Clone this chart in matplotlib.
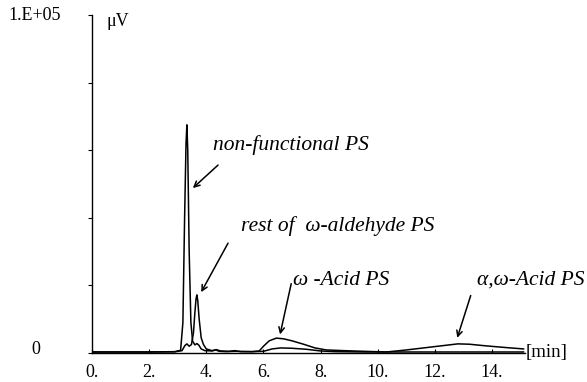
import matplotlib
matplotlib.use('Agg')
import matplotlib.pyplot as plt
import numpy as np

plt.rcParams['font.family'] = ['Liberation Serif', 'DejaVu Serif']

# retention time [min] and detector signal [uV]
t_a = [0.0, 1.0, 2.0, 2.9, 3.10, 3.18, 3.24, 3.29, 3.32, 3.35, 3.40, 3.46, 3.52, 3.60,
       3.67, 3.74, 3.82, 3.95, 4.20, 4.33, 4.45, 4.7, 5.0, 5.6, 6.0, 6.3, 6.6, 7.0,
       7.5, 8.0, 8.5, 9.5, 11.0, 13.0, 15.1]
s_a = [300, 300, 300, 400, 800, 9000, 40000, 62000, 67500, 60000, 30000, 9000, 3500,
       2400, 2800, 2300, 1200, 700, 600, 900, 500, 400, 500, 400, 500, 1200, 1500,
       1400, 1100, 600, 400, 300, 300, 300, 300]

t_b = [0.0, 1.0, 2.0, 2.9, 3.15, 3.25, 3.32, 3.40, 3.48, 3.55, 3.60, 3.64, 3.67,
       3.70, 3.75, 3.82, 3.90, 4.00, 4.20, 4.35, 4.50, 4.8, 5.0, 5.2, 5.6, 5.85,
       6.0, 6.2, 6.45, 6.7, 7.0, 7.4, 7.8, 8.2, 8.8, 9.5, 10.3, 11.0, 11.8, 12.4,
       12.8, 13.2, 13.8, 14.5, 15.1]
s_b = [300, 300, 300, 350, 700, 2200, 2700, 2000, 2500, 6000, 12000, 16000, 17200,
       15500, 10000, 4500, 2500, 1200, 700, 1000, 600, 500, 700, 400, 400, 600,
       2000, 3600, 4400, 4200, 3600, 2600, 1500, 900, 700, 500, 300, 900, 1700, 2300,
       2700, 2600, 2100, 1600, 1200]

xticks = [0, 2, 4, 6, 8, 10, 12, 14]
xticklabels = ['0.', '2.', '4.', '6.', '8.', '10.', '12.', '14.']

fig = plt.figure(figsize=(5.87, 3.82), dpi=100)
ax = fig.add_axes([92/587, 29/382, 433/587, 338/382])

ax.plot(t_a, s_a, color='black', lw=1.1)
ax.plot(t_b, s_b, color='black', lw=1.1)

ax.set_xlim(0, 15.15)
ax.set_ylim(0, 100000)
for sp in ['top', 'right']:
    ax.spines[sp].set_visible(False)
ax.spines['left'].set_linewidth(1.0)
ax.spines['bottom'].set_linewidth(1.0)

ax.set_xticks(xticks)
ax.set_xticklabels(xticklabels, fontsize=13)
ax.tick_params(axis='x', direction='in', length=3, pad=8)
ax.set_yticks([0, 20000, 40000, 60000, 80000, 100000])
ax.set_yticklabels([])
ax.tick_params(axis='y', direction='out', length=3)

fig.text(8/587, 1 - 16/382, '1.E+05', fontsize=13, va='center', ha='left')
fig.text(31/587, 1 - 349/382, '0', fontsize=13, va='center', ha='left')
fig.text(107/587, 1 - 22/382, 'μV', fontsize=13, va='center', ha='left')
fig.text(526/587, 1 - 352/382, '[min]', fontsize=13.5, va='center', ha='left')

arrow = dict(arrowstyle='->', color='black', lw=1.1, shrinkA=0, shrinkB=0)
lab = dict(fontsize=15.5, style='italic', va='center', ha='left')

ax.annotate('', xy=(3.53, 48800), xytext=(4.41, 55600), arrowprops=arrow)
ax.text(4.24, 61500, 'non-functional PS', **lab)

ax.annotate('', xy=(3.82, 18000), xytext=(4.76, 32500), arrowprops=arrow)
ax.text(5.2, 37500, 'rest of  ω-aldehyde PS', **lab)

ax.annotate('', xy=(6.58, 5500), xytext=(6.97, 20500), arrowprops=arrow)
ax.text(7.05, 21500, 'ω -Acid PS', **lab)

ax.annotate('', xy=(12.78, 4500), xytext=(13.25, 17000), arrowprops=arrow)
ax.text(13.48, 21500, 'α,ω-Acid PS', **lab)

fig.savefig('out.png', dpi=100)
